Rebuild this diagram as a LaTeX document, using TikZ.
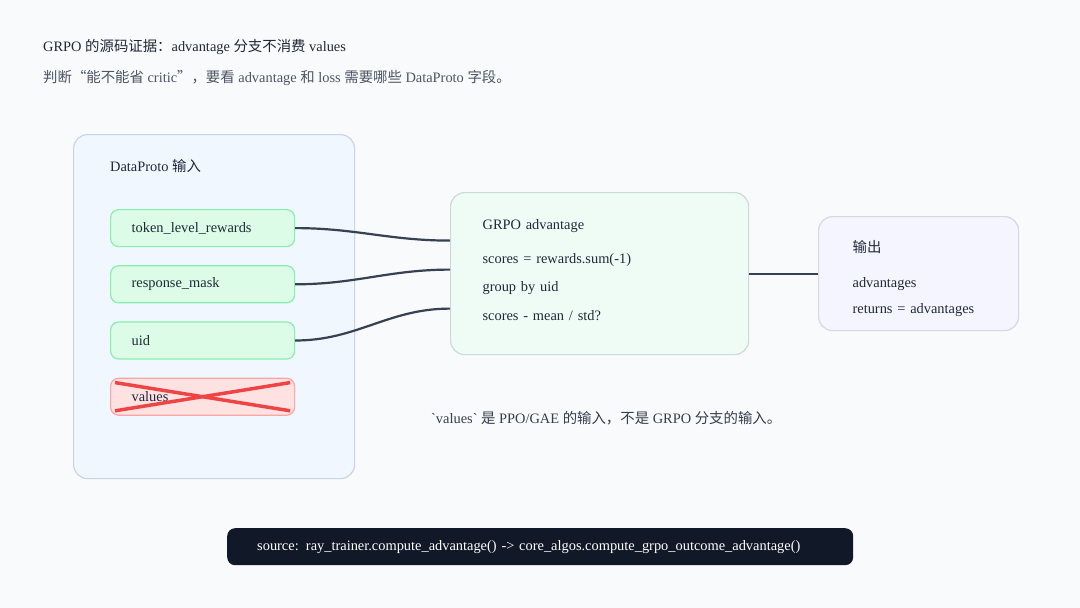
\documentclass[tikz,border=0pt]{standalone}
\usepackage{fontspec}
\setmainfont{Liberation Serif}
\newfontfamily\cjkfont{Noto Sans CJK SC}
\newcommand{\zh}[1]{{\cjkfont #1}}
\usetikzlibrary{positioning}
\definecolor{pagebg}{HTML}{F8FAFC}
\definecolor{inkdark}{HTML}{1F2937}
\definecolor{inkgray}{HTML}{4B5563}
\definecolor{panelfill}{HTML}{F0F7FF}
\definecolor{panelline}{HTML}{CBD5E1}
\definecolor{okfill}{HTML}{DCFCE7}
\definecolor{okline}{HTML}{86EFAC}
\definecolor{badfill}{HTML}{FEE2E2}
\definecolor{badline}{HTML}{FCA5A5}
\definecolor{crossred}{HTML}{EF4444}
\definecolor{algofill}{HTML}{EFFCF6}
\definecolor{algoline}{HTML}{C9DCDA}
\definecolor{outfill}{HTML}{F5F5FF}
\definecolor{outline}{HTML}{D6D6E7}
\definecolor{wire}{HTML}{374151}
\definecolor{barfill}{HTML}{111827}
\tikzset{
    basetext/.style={font=\fontsize{14.4}{17}\selectfont, text=inkdark, inner sep=0pt},
    panelbox/.style={rectangle, rounded corners=14pt, draw=panelline, fill=panelfill, line width=1.2pt},
    fieldbox/.style={rectangle, rounded corners=8pt, draw=okline, fill=okfill, line width=1.2pt, minimum width=184pt, minimum height=37pt, text width=142pt, inner xsep=21pt, align=left, font=\fontsize{14.4}{17}\selectfont, text=inkdark},
    badbox/.style={fieldbox, draw=badline, fill=badfill},
    crossline/.style={crossred, line width=3.5pt},
    algobox/.style={rectangle, rounded corners=14pt, draw=algoline, fill=algofill, line width=1.2pt, minimum width=298pt, minimum height=162pt, text width=234pt, inner xsep=32pt, align=left, font=\fontsize{14.4}{28.5}\selectfont, text=inkdark},
    outbox/.style={rectangle, rounded corners=14pt, draw=outline, fill=outfill, line width=1.2pt, minimum width=200pt, minimum height=114pt, text width=132pt, inner xsep=34pt, align=left, font=\fontsize{14.4}{26}\selectfont, text=inkdark},
    wirearr/.style={wire, line width=2.2pt},
    sourcebar/.style={rectangle, rounded corners=8pt, fill=barfill, minimum width=626pt, minimum height=37pt, text width=566pt, inner xsep=30pt, align=left, font=\fontsize{14.4}{17}\selectfont, text=white},
}
\begin{document}
\begin{tikzpicture}[x=1pt,y=-1pt]
% Page background and fixed size
\fill[pagebg] (0,0) rectangle (1080,608);
\useasboundingbox (0,0) rectangle (1080,608);

% Heading
\node[basetext, anchor=west] (title) at (43,47) {GRPO \zh{的源码证据：}advantage \zh{分支不消费} values};
\node[basetext, text=inkgray, anchor=west] (subtitle) at (43,78) {\zh{判断“能不能省} critic\zh{”，要看} advantage \zh{和} loss \zh{需要哪些} DataProto \zh{字段。}};

% Left column - DataProto inputs
\node[panelbox, minimum width=281pt, minimum height=344pt, anchor=north west] (inbox) at (73,134) {};
\node[basetext, anchor=west] (inhead) at (110,166) {DataProto \zh{输入}};
\node[fieldbox, anchor=north west] (rewards) at (110,209) {token\_level\_rewards};
\node[fieldbox, below=18pt of rewards] (mask) {response\_mask};
\node[fieldbox, below=18pt of mask] (uid) {uid};
\node[badbox, below=18pt of uid] (values) {values};
\draw[crossline] ([shift={(5,5)}]values.north west) -- ([shift={(-5,-5)}]values.south east);
\draw[crossline] ([shift={(5,-5)}]values.south west) -- ([shift={(-5,5)}]values.north east);

% Middle column - GRPO advantage
\node[algobox, anchor=north west] (algo) at (450,192) {GRPO advantage\\[5pt]scores = rewards.sum(-1)\\group by uid\\scores - mean / std?\par\vspace{7pt}\hrule height 0pt};

% Right column - outputs
\node[outbox, anchor=north west] (result) at (818,216) {\zh{输出}\\[9pt]advantages\\returns = advantages\par\vspace{-10pt}\hrule height 0pt};

% Connectors
\draw[wirearr] (rewards.east) to[out=0,in=180] ([yshift=33pt]algo.west);
\draw[wirearr] (mask.east) to[out=0,in=180] ([yshift=4pt]algo.west);
\draw[wirearr] (uid.east) to[out=0,in=180] ([yshift=-35pt]algo.west);
\draw[wirearr] (algo.east) -- (result.west);

% Note and source bar
\node[basetext, text=inkdark!90, anchor=west] (note) at (431,418) {\textasciigrave values\textasciigrave{} \zh{是} PPO/GAE \zh{的输入，不是} GRPO \zh{分支的输入。}};
\node[sourcebar, anchor=north west] (source) at (227,528) {source: ray\_trainer.compute\_advantage() -> core\_algos.compute\_grpo\_outcome\_advantage()};
\end{tikzpicture}
\end{document}
